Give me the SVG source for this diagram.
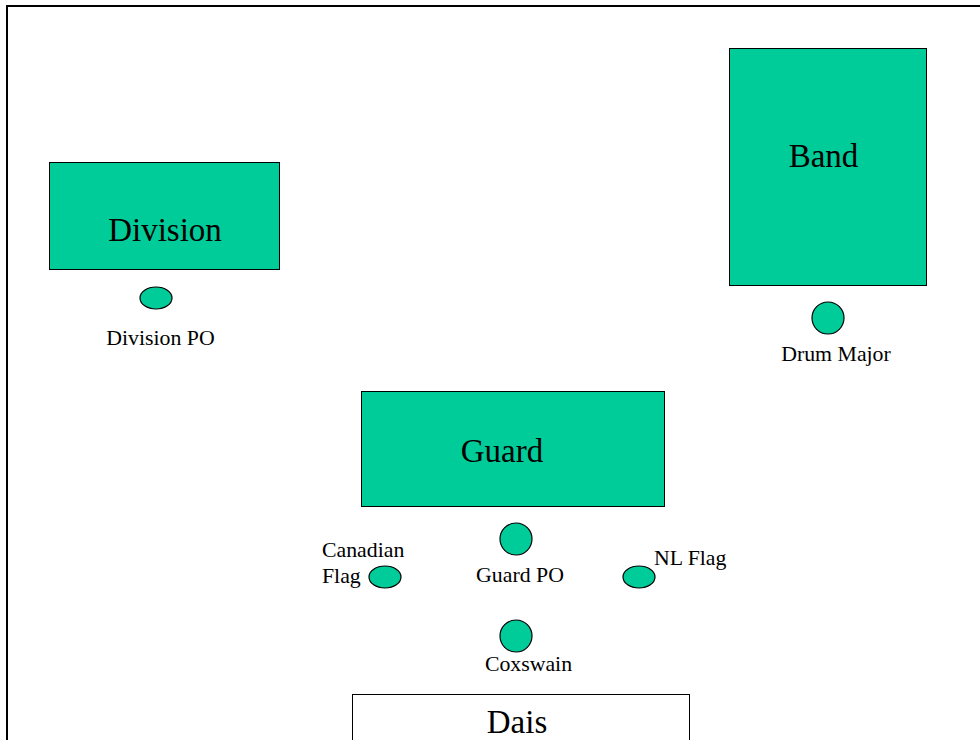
<svg xmlns="http://www.w3.org/2000/svg" width="980" height="740" viewBox="0 0 980 740">
<style>
.blk{fill:#00CC99;stroke:#000;stroke-width:1}
.dot{fill:#00CC99;stroke:#000;stroke-width:1.2}
.big{font-family:"Liberation Serif",serif;font-size:33px;fill:#000;text-anchor:middle}
.sm{font-family:"Liberation Serif",serif;font-size:21.8px;fill:#000}
.mid{text-anchor:middle}
</style>
<rect width="980" height="740" fill="#fff"/>
<path d="M7,740 V6 H980" fill="none" stroke="#000" stroke-width="2"/>
<g id="connectors"/>
<g id="division"><rect class="blk" x="49.5" y="162.5" width="230" height="107"/><text class="big" x="165" y="241">Division</text></g>
<g id="band"><rect class="blk" x="729.5" y="48.5" width="197" height="237"/><text class="big" x="823.5" y="167">Band</text></g>
<g id="guard"><rect class="blk" x="361.5" y="391.5" width="303" height="115"/><text class="big" x="502" y="462">Guard</text></g>
<g id="dais"><rect x="352.5" y="694.5" width="337" height="60" fill="#fff" stroke="#000" stroke-width="1"/><text class="big" x="517" y="733">Dais</text></g>
<g id="division-po"><ellipse class="dot" cx="156" cy="298" rx="16" ry="11"/><text class="sm mid" x="160.5" y="345">Division PO</text></g>
<g id="drum-major"><circle class="dot" cx="828" cy="318" r="16"/><text class="sm mid" x="836" y="361">Drum Major</text></g>
<g id="guard-po"><circle class="dot" cx="516" cy="539" r="16"/><text class="sm mid" x="520" y="582">Guard PO</text></g>
<g id="canadian-flag"><ellipse class="dot" cx="385" cy="577" rx="16" ry="11"/><text class="sm" x="322" y="557">Canadian</text><text class="sm" x="322" y="583">Flag</text></g>
<g id="nl-flag"><ellipse class="dot" cx="639" cy="577" rx="16" ry="11"/><text class="sm" x="654" y="565">NL Flag</text></g>
<g id="coxswain"><circle class="dot" cx="516" cy="636" r="16"/><text class="sm mid" x="528.5" y="671">Coxswain</text></g>
</svg>
